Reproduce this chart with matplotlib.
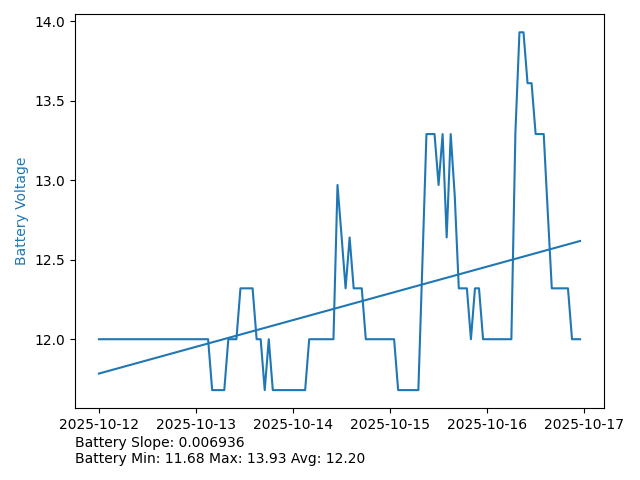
import numpy as np
import pandas as pd
import matplotlib
matplotlib.use("Agg")
import matplotlib.pyplot as plt

# hourly battery readings
start = "2025-10-12 00:00"
voltage = (
    [12.0] * 28 + [11.68] * 4 + [12.0] * 3 + [12.32] * 4 + [12.0] * 2
    + [11.68] + [12.0] + [11.68] * 9 + [12.0] * 7
    + [12.97, 12.65, 12.32, 12.64] + [12.32] * 3 + [12.0] * 8
    + [11.68] * 6 + [12.48] + [13.29] * 3 + [12.97, 13.29, 12.64, 13.29, 12.9]
    + [12.32] * 3 + [12.0] + [12.32] * 2 + [12.0] * 8
    + [13.3] + [13.93] * 2 + [13.61] * 2 + [13.29] * 3 + [12.8]
    + [12.32] * 5 + [12.0] * 3
)
slope_txt = "Battery Slope: 0.006936"
stats_txt = "Battery Min: 11.68 Max: 13.93 Avg: 12.20"

times = pd.date_range(start, periods=len(voltage), freq="h")
v = np.array(voltage)
hours = np.arange(len(v))
k, b = np.polyfit(hours, v, 1)
trend = k * hours + b

fig = plt.figure(figsize=(6.4, 4.8), dpi=100)
ax = fig.add_axes([0.117, 0.150, 0.827, 0.820])
ax.plot(times, v, color="tab:blue")
ax.plot(times, trend, color="tab:blue")
ax.set_ylabel("Battery Voltage", color="tab:blue")

fig.text(0.117, 0.035, slope_txt + "\n" + stats_txt, fontsize=10)

fig.savefig("out.png", dpi=100)
